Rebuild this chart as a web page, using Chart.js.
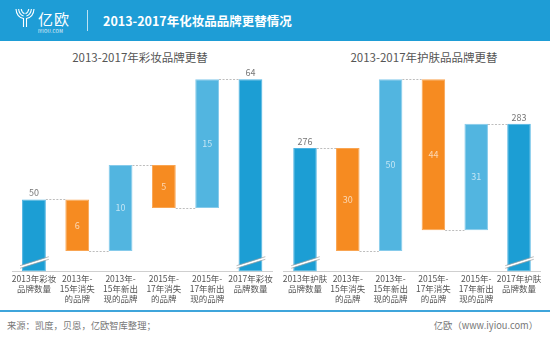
<!DOCTYPE html>
<html>
<head>
<meta charset="utf-8">
<script src="https://cdn.jsdelivr.net/npm/chart.js@4.4.1/dist/chart.umd.min.js"></script>
<style>
  body { margin: 0; width: 550px; height: 338px; background: #fff; position: relative; overflow: hidden;
         font-family: "Noto Sans CJK SC", sans-serif; }
  .abs { position: absolute; white-space: nowrap; }
  #header { left: 0; top: 0; width: 550px; height: 41px; background: #1e9dd6; }
  #brand { left: 38px; top: 10px; font-size: 15px; line-height: 18px; color: #fff; letter-spacing: 1px; }
  #brandSub { left: 38px; top: 28px; font-size: 4.5px; line-height: 6px; color: #fff; letter-spacing: 0.3px; }
  #sep { left: 87px; top: 10px; width: 1px; height: 21px; background: rgba(255,255,255,0.7); }
  #mainTitle { left: 103px; top: 12px; font-size: 12.5px; line-height: 18px; font-weight: bold; color: #fff; }
  .subTitle { top: 49px; font-size: 11.5px; line-height: 16px; color: #555; transform: translateX(-50%); }
  #footLine { left: 0; top: 310px; width: 550px; height: 1.5px; background: #3fa5db; }
  .foot { top: 318px; font-size: 9.3px; line-height: 14px; color: #777; }
  canvas { position: absolute; }
</style>
</head>
<body>
<div id="header" class="abs"></div>
<svg class="abs" style="left:15px;top:8px" width="20" height="20" viewBox="0 0 20 20" fill="none" stroke="#fff" stroke-width="1.1">
  <path d="M1 1 Q1.5 9 8.5 10.5 V19"/>
  <path d="M3.6 1 Q4.2 6.8 8.6 8"/>
  <path d="M6.2 1 Q6.8 4.8 9.5 5.6"/>
  <path d="M19 1 Q18.5 9 11.5 10.5 V19"/>
  <path d="M16.4 1 Q15.8 6.8 11.4 8"/>
  <path d="M13.8 1 Q13.2 4.8 10.5 5.6"/>
</svg>
<div id="brand" class="abs">亿欧</div>
<div id="brandSub" class="abs">IYIOU.COM</div>
<div id="sep" class="abs"></div>
<div id="mainTitle" class="abs">2013-2017年化妆品品牌更替情况</div>

<div class="abs subTitle" style="left:140px">2013-2017年彩妆品牌更替</div>
<div class="abs subTitle" style="left:424px">2013-2017年护肤品品牌更替</div>

<canvas id="makeup" width="275" height="270" style="left:0;top:40px"></canvas>
<canvas id="skincare" width="275" height="270" style="left:275px;top:40px"></canvas>

<div id="footLine" class="abs"></div>
<div class="abs foot" style="left:7px">来源：凯度，贝恩，亿欧智库整理；</div>
<div class="abs foot" style="right:12px">亿欧（www.iyiou.com）</div>

<script>
// bar kinds: total = brand count, loss = brands gone, gain = new brands
const barKinds = ["total", "loss", "gain", "loss", "gain", "total"];

const makeupLabels = [
  ["2013年彩妆", "品牌数量"],
  ["2013年-", "15年消失", "的品牌"],
  ["2013年-", "15年新出", "现的品牌"],
  ["2015年-", "17年消失", "的品牌"],
  ["2015年-", "17年新出", "现的品牌"],
  ["2017年彩妆", "品牌数量"]
];
const makeupValues = [50, -6, 10, -5, 15, 64];
const makeupAxis = [41.6, 64.85]; // broken axis: floor, top

const skincareLabels = [
  ["2013年护肤", "品牌数量"],
  ["2013年-", "15年消失", "的品牌"],
  ["2013年-", "15年新出", "现的品牌"],
  ["2015年-", "17年消失", "的品牌"],
  ["2015年-", "17年新出", "现的品牌"],
  ["2017年护肤", "品牌数量"]
];
const skincareValues = [276, -30, 50, -44, 31, 283];
const skincareAxis = [240.0, 298.1];

const colors = { total: "#1c9ed4", loss: "#f68b21", gain: "#52b5e0" };
const edges = { total: "#4db3e2", loss: "#f9a552", gain: "#86cbeb" };

const FONT = "'Noto Sans CJK SC', sans-serif";

function buildRanges(values, floor) {
  let level = 0;
  return values.map((v, i) => {
    if (barKinds[i] === "total") {
      level = v;
      return [floor, v];
    }
    const start = level;
    level += v;
    return [start, level];
  });
}

// dashed connectors, broken-axis marks and value labels
const waterfallDecor = {
  id: "waterfallDecor",
  afterDatasetsDraw(chart, args, opts) {
    const { ctx, chartArea } = chart;
    const y = chart.scales.y;
    const meta = chart.getDatasetMeta(0);
    const ranges = chart.data.datasets[0].data;
    const bars = meta.data;
    ctx.save();

    // connectors
    ctx.strokeStyle = "#bdbdbd";
    ctx.lineWidth = 1;
    ctx.setLineDash([2, 1.5]);
    for (let i = 0; i < bars.length - 1; i++) {
      const py = Math.round(y.getPixelForValue(ranges[i][1])) + 0.5;
      ctx.beginPath();
      ctx.moveTo(bars[i].x + bars[i].width / 2, py);
      ctx.lineTo(bars[i + 1].x - bars[i + 1].width / 2, py);
      ctx.stroke();
    }
    ctx.setLineDash([]);

    // break marks on the total bars
    bars.forEach((bar, i) => {
      if (barKinds[i] !== "total") return;
      const yc = chartArea.bottom - 9;
      const x0 = bar.x - bar.width / 2 - 2;
      const x1 = bar.x + bar.width / 2 + 3;
      ctx.strokeStyle = "#ffffff";
      ctx.lineWidth = 2;
      ctx.beginPath(); ctx.moveTo(x0, yc + 4.5); ctx.lineTo(x1, yc - 4.5); ctx.stroke();
      ctx.strokeStyle = "#a0a0a0";
      ctx.lineWidth = 0.7;
      [-1.3, 1.3].forEach(d => {
        ctx.beginPath(); ctx.moveTo(x0, yc + 4.5 + d); ctx.lineTo(x1, yc - 4.5 + d); ctx.stroke();
      });
    });

    // value labels
    ctx.textAlign = "center";
    ctx.textBaseline = "middle";
    ctx.font = "9px " + FONT;
    bars.forEach((bar, i) => {
      const v = opts.values[i];
      if (barKinds[i] === "total") {
        ctx.fillStyle = "#777";
        ctx.fillText(String(v), bar.x, y.getPixelForValue(v) - 6.5);
      } else {
        const mid = (y.getPixelForValue(ranges[i][0]) + y.getPixelForValue(ranges[i][1])) / 2;
        ctx.fillStyle = "rgba(255,255,255,0.65)";
        ctx.fillText(String(Math.abs(v)), bar.x, mid);
      }
    });
    ctx.restore();
  }
};

function drawWaterfall(id, labels, values, axis, padLeft, padRight) {
  const data = {
    labels: labels,
    datasets: [{
      data: buildRanges(values, axis[0]),
      backgroundColor: barKinds.map(k => colors[k]),
      borderColor: barKinds.map(k => edges[k]),
      borderWidth: 1,
      borderSkipped: false,
      barPercentage: 0.55,
      categoryPercentage: 1
    }]
  };

  const config = {
    type: "bar",
    data: data,
    plugins: [waterfallDecor],
    options: {
      responsive: false,
      animation: false,
      layout: { padding: { top: 32, bottom: 0, left: padLeft, right: padRight } },
      plugins: {
        legend: { display: false },
        tooltip: { enabled: false },
        waterfallDecor: { values: values }
      },
      scales: {
        x: {
          grid: { display: false, drawTicks: false },
          border: { display: true, color: "#cfcfcf", width: 1 },
          ticks: {
            color: "#555",
            padding: 2,
            maxRotation: 0,
            autoSkip: false,
            font: { family: FONT, size: 8.5, lineHeight: 1.18 }
          },
          afterFit: (scale) => { scale.height = 38.5; }
        },
        y: {
          display: false,
          min: axis[0],
          max: axis[1]
        }
      }
    }
  };

  return new Chart(document.getElementById(id).getContext("2d"), config);
}

drawWaterfall("makeup", makeupLabels, makeupValues, makeupAxis, 12.3, 2.9);
drawWaterfall("skincare", skincareLabels, skincareValues, skincareAxis, 8.6, 9.6);
</script>
</body>
</html>
